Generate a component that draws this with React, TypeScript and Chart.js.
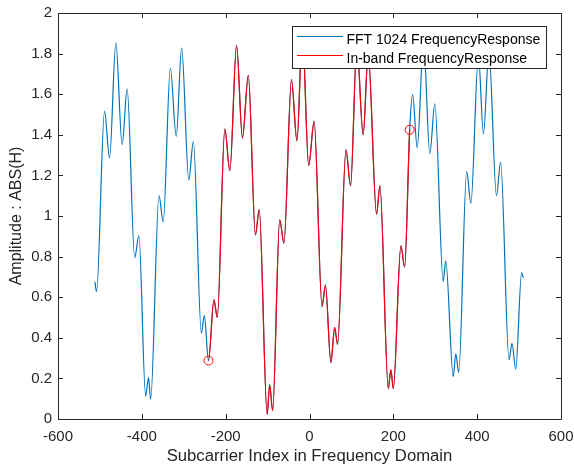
import React, { useEffect, useRef } from "react";
import { Chart, registerables } from "chart.js";

Chart.register(...registerables);

// Subcarrier index (x) of traced points of the FFT-1024 frequency response
const subcarrierIndex = [
  -512, -508, -489, -477, -462, -447, -435, -417, -407, -391, -384, -379, -359, -349, -332, -318,
  -305, -288, -277, -258, -251, -241, -228, -220, -202, -190, -174, -160, -146, -129, -120, -101,
  -95, -88, -71, -61, -43, -30, -17, -2, 11, 30, 38, 51, 60, 67, 87, 98, 113, 128, 140, 160, 168,
  188, 194, 200, 218, 227, 239, 246, 257, 272, 287, 299, 319, 325, 343, 349, 356, 375, 385, 403,
  415, 428, 446, 456, 476, 483, 492, 506, 510,
];

// |H| at those subcarriers
const amplitude = [
  0.675, 0.628, 1.515, 1.285, 1.853, 1.351, 1.626, 0.795, 0.904, 0.113, 0.204, 0.097, 1.101, 0.97,
  1.729, 1.392, 1.828, 1.178, 1.367, 0.423, 0.509, 0.288, 0.587, 0.501, 1.428, 1.223, 1.841, 1.384,
  1.693, 0.907, 1.031, 0.023, 0.168, 0.041, 0.981, 0.866, 1.672, 1.371, 1.9, 1.249, 1.466, 0.554,
  0.66, 0.278, 0.45, 0.368, 1.326, 1.149, 1.84, 1.4, 1.8, 1.009, 1.15, 0.151, 0.242, 0.151, 0.853,
  0.748, 1.425, 1.598, 1.335, 1.86, 1.307, 1.553, 0.677, 0.779, 0.209, 0.321, 0.23, 1.219, 1.063,
  1.79, 1.404, 1.81, 1.101, 1.264, 0.291, 0.373, 0.245, 0.721, 0.695,
];

// In-band range (subcarrier indices of the two marked end points)
const inBandStart = -241;
const inBandEnd = 239;

const xTicks = [-600, -400, -200, 0, 200, 400, 600];
const yTicks = [0, 0.2, 0.4, 0.6, 0.8, 1, 1.2, 1.4, 1.6, 1.8, 2];
const yTickLabels = ["0", "0.2", "0.4", "0.6", "0.8", "1", "1.2", "1.4", "1.6", "1.8", "2"];

const seriesNames = ["FFT 1024 FrequencyResponse", "In-band FrequencyResponse"];
const xTitle = "Subcarrier Index in Frequency Domain";
const yTitle = "Amplitude : ABS(H)";

const BLUE = "#0072BD";
const RED = "#FF0000";
const AXIS = "#262626";
const FONT = "'Liberation Sans', Arial, Helvetica, sans-serif";

export default function App() {
  const canvasRef = useRef<HTMLCanvasElement | null>(null);

  useEffect(() => {
    document.body.style.margin = "0";
    const canvas = canvasRef.current;
    if (!canvas) return;

    const points = subcarrierIndex.map((x, i) => ({ x, y: amplitude[i] }));
    const markerPoints = points.filter((p) => p.x === inBandStart || p.x === inBandEnd);

    const framePlugin = {
      id: "matlabFrame",
      afterDraw(chart: any) {
        const { ctx, chartArea: a, scales } = chart;
        const xs = scales.x;
        const ys = scales.y;
        ctx.save();
        ctx.strokeStyle = AXIS;
        ctx.lineWidth = 1;
        ctx.beginPath();
        ctx.rect(Math.round(a.left) + 0.5, Math.round(a.top) + 0.5, Math.round(a.right - a.left), Math.round(a.bottom - a.top));
        ctx.stroke();
        const tl = 5;
        ctx.beginPath();
        for (const v of xTicks) {
          const px = Math.round(xs.getPixelForValue(v)) + 0.5;
          ctx.moveTo(px, a.bottom);
          ctx.lineTo(px, a.bottom - tl);
          ctx.moveTo(px, a.top);
          ctx.lineTo(px, a.top + tl);
        }
        for (const v of yTicks) {
          const py = Math.round(ys.getPixelForValue(v)) + 0.5;
          ctx.moveTo(a.left, py);
          ctx.lineTo(a.left + tl, py);
          ctx.moveTo(a.right, py);
          ctx.lineTo(a.right - tl, py);
        }
        ctx.stroke();

        // Legend box (inside the axes, upper right)
        const bx = 292.5, by = 26.5, bw = 254, bh = 42;
        ctx.fillStyle = "#FFFFFF";
        ctx.fillRect(bx, by, bw, bh);
        ctx.strokeStyle = AXIS;
        ctx.strokeRect(bx, by, bw, bh);
        const colors = [BLUE, RED];
        const lineY = [36.5, 55.5];
        const textY = [44.3, 62.7];
        ctx.font = `14px ${FONT}`;
        ctx.textBaseline = "alphabetic";
        ctx.textAlign = "left";
        for (let i = 0; i < seriesNames.length; i++) {
          ctx.strokeStyle = colors[i];
          ctx.lineWidth = 1.2;
          ctx.beginPath();
          ctx.moveTo(297, lineY[i]);
          ctx.lineTo(343, lineY[i]);
          ctx.stroke();
          ctx.fillStyle = "#000000";
          ctx.fillText(seriesNames[i], 346.5, textY[i]);
        }
        ctx.restore();
      },
    };

    const inBand = (x: number) => x >= inBandStart && x <= inBandEnd;

    const chart = new Chart(canvas, {
      type: "line",
      data: {
        datasets: [
          {
            label: "markers",
            data: markerPoints,
            showLine: false,
            pointRadius: 4.5,
            pointBorderColor: RED,
            pointBackgroundColor: "rgba(0,0,0,0)",
            pointBorderWidth: 1,
            order: 0,
          } as any,
          {
            label: seriesNames[1],
            data: points,
            borderColor: RED,
            borderWidth: 1.2,
            pointRadius: 0,
            cubicInterpolationMode: "monotone",
            order: 1,
            segment: {
              borderColor: (c: any) =>
                inBand(c.p0.parsed.x) && inBand(c.p1.parsed.x) ? RED : "rgba(0,0,0,0)",
            },
          } as any,
          {
            label: seriesNames[0],
            data: points,
            borderColor: BLUE,
            borderWidth: 1.2,
            pointRadius: 0,
            cubicInterpolationMode: "monotone",
            order: 2,
          } as any,
        ],
      },
      options: {
        animation: false,
        responsive: false,
        maintainAspectRatio: false,
        events: [],
        layout: { padding: { left: 0, right: 13, top: 13, bottom: 0 } },
        plugins: { legend: { display: false }, tooltip: { enabled: false } },
        scales: {
          x: {
            type: "linear",
            min: -600,
            max: 600,
            afterBuildTicks: (s: any) => {
              s.ticks = xTicks.map((v) => ({ value: v }));
            },
            afterFit: (s: any) => {
              s.height = 51;
              s.paddingLeft = 0;
              s.paddingRight = 0;
            },
            grid: { display: false, drawTicks: false },
            border: { display: false },
            ticks: {
              autoSkip: false,
              maxRotation: 0,
              padding: 9,
              color: AXIS,
              font: { family: FONT, size: 15 },
              callback: (v: any) => String(v),
            },
            title: {
              display: true,
              text: xTitle,
              color: AXIS,
              font: { family: FONT, size: 16.7 },
              padding: { top: 0, bottom: 3.5 },
            },
          },
          y: {
            type: "linear",
            min: 0,
            max: 2,
            afterBuildTicks: (s: any) => {
              s.ticks = yTicks.map((v) => ({ value: v }));
            },
            afterFit: (s: any) => {
              s.width = 58;
              s.paddingTop = 0;
              s.paddingBottom = 0;
            },
            grid: { display: false, drawTicks: false },
            border: { display: false },
            ticks: {
              autoSkip: false,
              padding: 6,
              color: AXIS,
              font: { family: FONT, size: 15 },
              callback: (v: any) => {
                const i = yTicks.findIndex((t) => Math.abs(t - v) < 1e-9);
                return i >= 0 ? yTickLabels[i] : "";
              },
            },
            title: {
              display: true,
              text: yTitle,
              color: AXIS,
              font: { family: FONT, size: 16 },
              padding: { top: 7.4, bottom: 0 },
            },
          },
        },
      },
      plugins: [framePlugin],
    } as any);

    return () => chart.destroy();
  }, []);

  return (
    <div style={{ width: 574, height: 470, background: "#fff" }}>
      <canvas ref={canvasRef} width={574} height={470} style={{ display: "block" }} />
    </div>
  );
}
